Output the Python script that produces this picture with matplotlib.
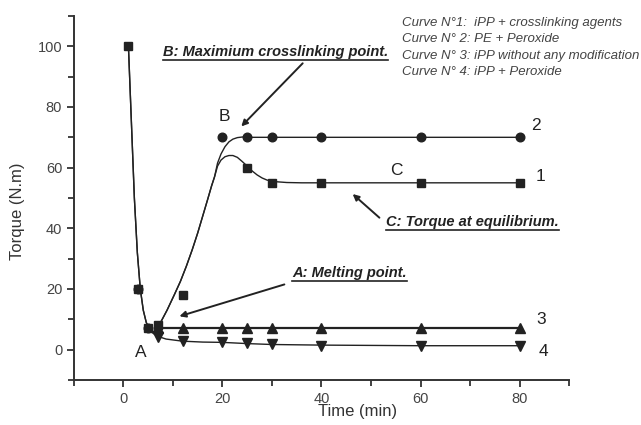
import matplotlib
matplotlib.use("Agg")
import matplotlib.pyplot as plt
from matplotlib.lines import Line2D
from matplotlib.ticker import MultipleLocator

plt.rcParams['font.family'] = ['Liberation Sans', 'DejaVu Sans']

# ---- measured points ----
c1_x = [1, 3, 5, 7, 12, 25, 30, 40, 60, 80]
c1_y = [100, 20, 7, 8, 18, 60, 55, 55, 55, 55]
c2_x = [3, 5, 20, 25, 30, 40, 60, 80]
c2_y = [20, 7, 70, 70, 70, 70, 70, 70]
c3_x = [7, 12, 20, 25, 30, 40, 60, 80]
c3_y = [7, 7, 7, 7, 7, 7, 7, 7]
c4_x = [7, 12, 20, 25, 30, 40, 60, 80]
c4_y = [4.2, 2.8, 2.6, 2.1, 1.8, 1.3, 1.3, 1.3]

# ---- fitted curves ----
fit_shared_x = [1, 1.6, 2.2, 2.8, 3.4, 4.0, 4.6, 5.2, 5.9, 6.6, 7.6, 8.8, 10.3,
                11.5, 12.7, 13.9, 15.0, 16.0, 17.0, 17.8, 18.4]
fit_shared_y = [100, 75, 50, 32, 20, 13, 9, 6.8, 5.8, 6.5, 9.3, 13, 18.2,
                22.5, 27.5, 33, 38.5, 44, 49.5, 54, 57]
fit1_x = [19.0, 19.7, 20.5, 21.3, 22.1, 23.0, 24.0, 25, 26, 27, 28, 29, 30.5,
          33, 36, 40, 60, 80]
fit1_y = [60.5, 62.5, 63.6, 64.0, 64.0, 63.4, 62.0, 60.5, 58.9, 57.6, 56.6,
          55.9, 55.4, 55.1, 55, 55, 55, 55]
fit2_x = [19.0, 19.7, 20.5, 21.3, 22.1, 23.0, 24.0, 26, 80]
fit2_y = [61.5, 64.5, 66.9, 68.5, 69.4, 69.9, 70.1, 70, 70]
fit4_x = [5.2, 5.9, 6.9, 8.6, 11.9, 16, 20, 25, 30, 40, 60, 80]
fit4_y = [6.8, 5.5, 4.4, 3.5, 2.8, 2.5, 2.4, 2.0, 1.7, 1.5, 1.3, 1.3]

curve_labels = ["1", "2", "3", "4"]
legend_lines = ["Curve N°1:  iPP + crosslinking agents",
                "Curve N° 2: PE + Peroxide",
                "Curve N° 3: iPP without any modification",
                "Curve N° 4: iPP + Peroxide"]

ink = '#222222'
fig = plt.figure(figsize=(6.41, 4.25), dpi=100)
ax = fig.add_axes([0.1154, 0.1059, 0.7723, 0.8565])

# fitted lines
ax.plot(fit_shared_x + fit1_x, fit_shared_y + fit1_y, color=ink, lw=1.0, zorder=2)
ax.plot(fit_shared_x + fit2_x, fit_shared_y + fit2_y, color=ink, lw=1.0, zorder=2)
ax.plot(c3_x, c3_y, color=ink, lw=1.6, zorder=2)
ax.plot(fit4_x, fit4_y, color=ink, lw=1.0, zorder=2)

# markers
ax.plot(c3_x, c3_y, ls='none', marker='^', ms=7, color=ink, zorder=3)
ax.plot(c4_x, c4_y, ls='none', marker='v', ms=7, color=ink, zorder=3)
ax.plot(c2_x, c2_y, ls='none', marker='o', ms=6.2, color=ink, zorder=4)
ax.plot(c1_x, c1_y, ls='none', marker='s', ms=5.8, color=ink, zorder=5)

ax.set_xlim(-10, 90)
ax.set_ylim(-10, 110)
ax.xaxis.set_minor_locator(MultipleLocator(10))
ax.yaxis.set_minor_locator(MultipleLocator(10))
ax.set_xticks([0, 20, 40, 60, 80])
ax.set_yticks([0, 20, 40, 60, 80, 100])
for s in ['top', 'right']:
    ax.spines[s].set_visible(False)
for s in ['left', 'bottom']:
    ax.spines[s].set_linewidth(1.4)
    ax.spines[s].set_color('#333333')
ax.tick_params(which='major', direction='out', length=5, width=1.3,
               colors='#333333', labelsize=10.5, labelcolor='#444444')
ax.tick_params(which='minor', direction='out', length=4, width=1.3, colors='#333333')

ax.set_xlabel('Time (min)', fontsize=12, color='#333333')
ax.set_ylabel('Torque (N.m)', fontsize=12, color='#333333')
ax.xaxis.set_label_coords(0.572, -0.067)
ax.yaxis.set_label_coords(-0.099, 0.464)

# curve numbers
for lab, (x, y) in zip(curve_labels, [(84.2, 57.2), (83.3, 74), (84.4, 10.1), (84.9, -0.6)]):
    ax.text(x, y, lab, fontsize=12.5, color=ink, ha='center', va='center')
for lab, (x, y) in zip(["A", "B", "C"], [(3.4, -1.1), (20.4, 77), (55.2, 58.9)]):
    ax.text(x, y, lab, fontsize=12.5, color=ink, ha='center', va='center')

# annotations
arrow = dict(arrowstyle='-|>', lw=1.4, color=ink, mutation_scale=9, shrinkA=0, shrinkB=0)
ann_texts = []
t = ax.text(7.9, 98.2, 'B: Maximium crosslinking point.', fontsize=10.5, fontweight='bold',
            style='italic', color=ink, va='center', ha='left')
ann_texts.append(t)
ax.annotate('', xy=(23.8, 73.6), xytext=(36.2, 94.4), arrowprops=arrow)
t = ax.text(53, 42.2, 'C: Torque at equilibrium.', fontsize=10.5, fontweight='bold',
            style='italic', color=ink, va='center', ha='left')
ann_texts.append(t)
ax.annotate('', xy=(46.3, 51.3), xytext=(51.7, 43.5), arrowprops=arrow)
t = ax.text(34.1, 25.4, 'A: Melting point.', fontsize=10.5, fontweight='bold',
            style='italic', color=ink, va='center', ha='left')
ann_texts.append(t)
ax.annotate('', xy=(11.3, 11), xytext=(32.5, 21.5), arrowprops=arrow)

# legend text block
for i, line in enumerate(legend_lines):
    fig.text(402 / 641, 1 - (23 + 16.3 * i) / 425, line, fontsize=9.5, style='italic',
             color='#444444', va='center', ha='left')

fig.canvas.draw()
r = fig.canvas.get_renderer()
inv = fig.transFigure.inverted()
for t in ann_texts:
    bb = t.get_window_extent(r)
    (x0, y0), (x1, y1) = inv.transform([(bb.x0, bb.y0), (bb.x1, bb.y0)])
    y0 -= 1.0 / 425
    fig.add_artist(Line2D([x0, x1], [y0, y0], transform=fig.transFigure, color=ink, lw=1.2))

fig.savefig('out.png', dpi=100)
